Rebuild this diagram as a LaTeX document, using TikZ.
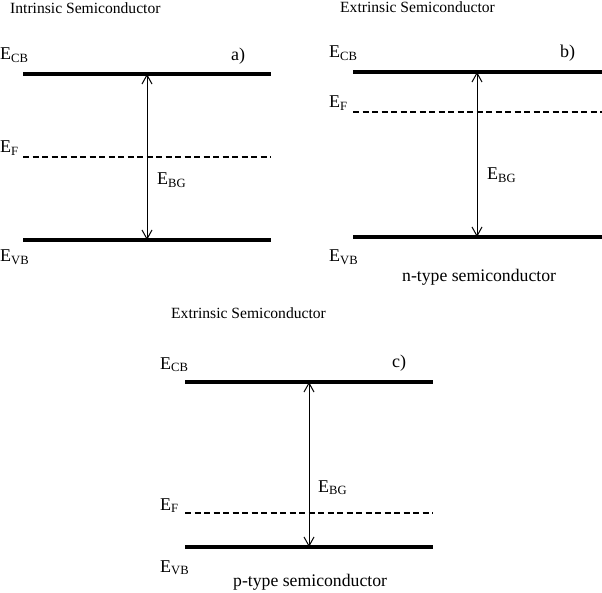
\documentclass[tikz,border=0pt]{standalone}
\usepackage{fontspec}
\setmainfont{Liberation Serif}
\usetikzlibrary{arrows.meta}
\begin{document}
\begin{tikzpicture}[x=1pt,y=-1pt,
  band/.style={line width=3.6pt},
  fermi/.style={line width=1.3pt,dash pattern=on 6pt off 3.5pt},
  gap/.style={line width=1pt,{Straight Barb[length=9pt,width=10pt,line width=1pt]}-{Straight Barb[length=9pt,width=10pt,line width=1pt]}},
  lbl/.style={anchor=base west,inner sep=0pt,font=\fontsize{18}{20}\selectfont},
  ttl/.style={anchor=base west,inner sep=0pt,font=\fontsize{15.6}{18}\selectfont},
  sub/.style={anchor=base west,inner sep=0pt,font=\fontsize{17.7}{20}\selectfont}]
\useasboundingbox (0,0) rectangle (602,593);
% ---- panel a ----
\node[ttl] (ta) at (10,14) {Intrinsic Semiconductor};
\node[lbl] (ecba) at (0,60) {E\textsubscript{CB}};
\node[lbl] (pa) at (231,61) {a)};
\node[lbl] (efa) at (0,153) {E\textsubscript{F}};
\node[lbl] (ebga) at (157,185) {E\textsubscript{BG}};
\node[lbl] (evba) at (0,262) {E\textsubscript{VB}};
\coordinate (cbaL) at (23,74); \coordinate (cbaR) at (271,74);
\coordinate (faL) at (23,157); \coordinate (faR) at (271,157);
\coordinate (vbaL) at (23,240); \coordinate (vbaR) at (271,240);
\coordinate (aT) at (147,74); \coordinate (aB) at (147,240);
\draw[band] (cbaL) -- (cbaR);
\draw[fermi] (faL) -- (faR);
\draw[band] (vbaL) -- (vbaR);
\draw[gap] (aT) -- (aB);
% ---- panel b ----
\node[ttl] (tb) at (340,13) {Extrinsic Semiconductor};
\node[lbl] (ecbb) at (329,58) {E\textsubscript{CB}};
\node[lbl] (pb) at (560,58) {b)};
\node[lbl] (efb) at (329,108) {E\textsubscript{F}};
\node[lbl] (ebgb) at (487,180) {E\textsubscript{BG}};
\node[lbl] (evbb) at (329,262) {E\textsubscript{VB}};
\node[sub] (nt) at (402,282) {n-type semiconductor};
\coordinate (cbbL) at (353,72); \coordinate (cbbR) at (602,72);
\coordinate (fbL) at (353,112); \coordinate (fbR) at (602,112);
\coordinate (vbbL) at (353,237); \coordinate (vbbR) at (602,237);
\coordinate (bT) at (477,72); \coordinate (bB) at (477,237);
\draw[band] (cbbL) -- (cbbR);
\draw[fermi] (fbL) -- (fbR);
\draw[band] (vbbL) -- (vbbR);
\draw[gap] (bT) -- (bB);
% ---- panel c ----
\node[ttl] (tc) at (171,319) {Extrinsic Semiconductor};
\node[lbl] (ecbc) at (160,369) {E\textsubscript{CB}};
\node[lbl] (pc) at (392,367) {c)};
\node[lbl] (ebgc) at (318,492) {E\textsubscript{BG}};
\node[lbl] (efc) at (160,510) {E\textsubscript{F}};
\node[lbl] (evbc) at (160,572) {E\textsubscript{VB}};
\node[sub] (pt) at (233,586) {p-type semiconductor};
\coordinate (cbcL) at (185,382); \coordinate (cbcR) at (433,382);
\coordinate (fcL) at (185,513); \coordinate (fcR) at (433,513);
\coordinate (vbcL) at (185,547); \coordinate (vbcR) at (433,547);
\coordinate (cT) at (309,382); \coordinate (cB) at (309,547);
\draw[band] (cbcL) -- (cbcR);
\draw[fermi] (fcL) -- (fcR);
\draw[band] (vbcL) -- (vbcR);
\draw[gap] (cT) -- (cB);
\end{tikzpicture}
\end{document}
